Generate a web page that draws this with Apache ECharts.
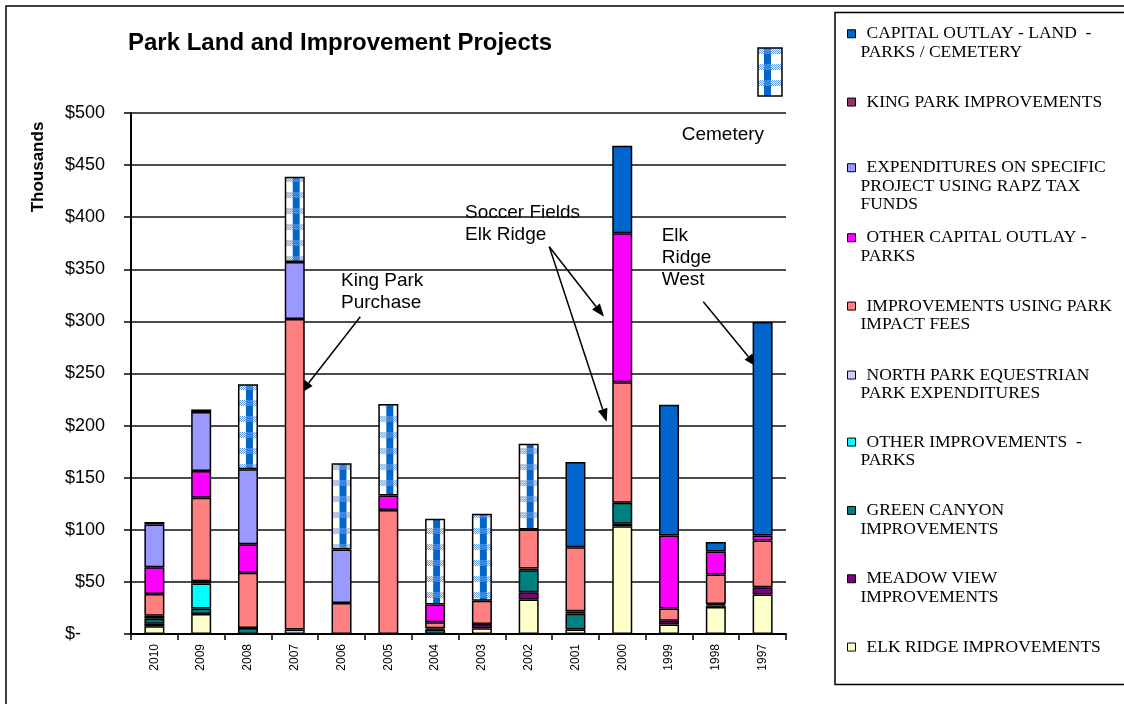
<!DOCTYPE html>
<html>
<head>
<meta charset="utf-8">
<script src="https://cdn.jsdelivr.net/npm/echarts@6/dist/echarts.min.js"></script>
<style>
  html, body { margin: 0; padding: 0; background: #fff; }
  #chart { width: 1124px; height: 704px; }
</style>
</head>
<body>
<div id="chart"></div>
<script>
// Fiscal years, newest first
const years = ['2010','2009','2008','2007','2006','2005','2004','2003','2002','2001','2000','1999','1998','1997'];

// Spending per project, in thousands of dollars (stacked bottom to top)
const elkRidge        = [7.4, 19.2, 0, 0, 0, 0, 0, 5.4, 33, 4.2, 103.5, 9, 26, 37.8];
const meadowView      = [2.5, 0, 0, 0, 0, 0, 0, 4.2, 7, 0, 2.3, 3.8, 1.5, 7];
const greenCanyon     = [4.8, 5.2, 5.8, 0, 0, 0, 4.2, 0, 21.2, 15.3, 20.2, 0, 1.4, 0];
const otherImprove    = [2.9, 24, 0, 0, 0, 0, 1.3, 0, 1.6, 2.3, 0, 0, 0, 0];
const northPark       = [0, 2.2, 0, 4.2, 0, 0, 0, 0, 0, 0, 0, 0, 0, 0];
const impactFees      = [20.9, 80.2, 52.9, 298, 29.8, 118.9, 5.7, 22.4, 37.5, 61.5, 115.6, 11.6, 28.2, 44.9];
const otherCapital    = [25.6, 25.6, 27.5, 0, 0, 14.1, 17, 0, 0, 0, 143, 70.2, 22.1, 4.8];
const rapzFunds       = [41, 56.6, 71.8, 54.7, 51.3, 0, 0, 0, 0, 0, 0, 0, 0, 0];
const kingPark        = [2.4, 2.5, 0, 0, 0, 0, 0, 0, 0, 0, 0, 0, 0, 0];
const landCapital     = [0, 0, 0, 0, 0, 0, 0, 0, 0, 81.7, 83.9, 125.3, 9, 205];
const cemetery        = [0, 0, 81.7, 82, 82.7, 87.8, 82.3, 83.4, 82.4, 0, 0, 0, 0, 0];

// Y axis ticks
const yMin = 0, yMax = 500, yStep = 50;

// Legend wording, one array entry per printed line (top of legend first)
const legendLines = [
  ['CAPITAL OUTLAY - LAND  -', 'PARKS / CEMETERY'],
  ['KING PARK IMPROVEMENTS'],
  ['EXPENDITURES ON SPECIFIC', 'PROJECT USING RAPZ TAX', 'FUNDS'],
  ['OTHER CAPITAL OUTLAY -', 'PARKS'],
  ['IMPROVEMENTS USING PARK', 'IMPACT FEES'],
  ['NORTH PARK EQUESTRIAN', 'PARK EXPENDITURES'],
  ['OTHER IMPROVEMENTS  -', 'PARKS'],
  ['GREEN CANYON', 'IMPROVEMENTS'],
  ['MEADOW VIEW', 'IMPROVEMENTS'],
  ['ELK RIDGE IMPROVEMENTS']
];
const legendColors = ['#0066CC', '#993366', '#9999FF', '#FF00FF', '#FF8080',
                      '#CCCCFF', '#00FFFF', '#008080', '#800080', '#FFFFCC'];
const legendValues = [landCapital, kingPark, rapzFunds, otherCapital, impactFees,
                      northPark, otherImprove, greenCanyon, meadowView, elkRidge];

const SANS = '"Liberation Sans", Arial, sans-serif';
const SERIF = '"Liberation Serif", "Times New Roman", serif';

const GRID = { left: 131, right: 338, top: 113, bottom: 70 };
const plotW = 1124 - GRID.left - GRID.right;
const band = plotW / years.length;
const BAR_W = 20;

// Blue-and-white woven fill used for the cemetery payments
function wovenTile() {
  const c = document.createElement('canvas');
  c.width = 47; c.height = 16;
  const g = c.getContext('2d');
  g.fillStyle = '#fff';
  g.fillRect(0, 0, 47, 16);
  for (let y = 0; y < 6; y++) {
    for (let x = 0; x < 47; x++) {
      if ((x + y) % 2 === 0) { g.fillStyle = '#5a97e0'; g.fillRect(x, y, 1, 1); }
    }
  }
  g.fillStyle = '#0066CC';
  g.fillRect(8, 0, 7, 16);
  g.fillStyle = '#3d85d8';
  g.fillRect(8, 0, 7, 6);
  return c;
}
const tile = wovenTile();
const woven = {
  image: tile, repeat: 'repeat',
  x: GRID.left + band / 2 - BAR_W / 2, y: 0,
  scaleX: band / 47, scaleY: 1
};

const toBar = arr => arr.map(v => (v ? v : '-'));

const series = [];
for (let i = legendLines.length - 1; i >= 0; i--) {
  series.push({
    name: legendLines[i].join(' '),
    type: 'bar',
    stack: 'total',
    barWidth: BAR_W,
    data: toBar(legendValues[i]),
    itemStyle: { color: legendColors[i], borderColor: '#000', borderWidth: 1.5 },
    emphasis: { disabled: true }
  });
}
series.push({
  name: 'CEMETERY',
  type: 'bar',
  stack: 'total',
  barWidth: BAR_W,
  data: toBar(cemetery),
  itemStyle: { color: woven, borderColor: '#000', borderWidth: 1.5 },
  emphasis: { disabled: true }
});

// One legend block per entry; blank lines ahead of the wording keep the
// swatch level with the first printed line, and the first line sits a
// little to the right of the wrapped ones
const legendCapTops = [26, 94.3, 160, 230, 298.3, 367.3, 434.3, 502.7, 571, 639.3];
const LEG_LH = 18.5, LEG_FS = 17.5;
const legText = { fontFamily: SERIF, fontSize: LEG_FS, lineHeight: LEG_LH, color: '#000' };
const legends = legendLines.map((lines, i) => ({
  data: [lines.join(' ')],
  orient: 'vertical',
  left: 847,
  top: legendCapTops[i] - 1.5 - (lines.length - 1) * LEG_LH,
  padding: 0,
  itemWidth: 8,
  itemHeight: 8,
  icon: 'rect',
  selectedMode: false,
  itemStyle: { borderColor: '#000', borderWidth: 1 },
  formatter: () => '\n'.repeat(lines.length - 1) +
    lines.map((s, k) => (k === 0 ? '{f|' : '{r|') + s + '}').join('\n'),
  textStyle: Object.assign({}, legText, {
    rich: {
      f: Object.assign({}, legText, { padding: [0, 0, 0, 6] }),
      r: Object.assign({}, legText)
    }
  })
}));

function arrow(x1, y1, x2, y2) {
  const a = Math.atan2(y2 - y1, x2 - x1), L = 13, W = 5;
  const bx = x2 - L * Math.cos(a), by = y2 - L * Math.sin(a);
  const px = -Math.sin(a) * W, py = Math.cos(a) * W;
  return [
    { type: 'line', silent: true, shape: { x1, y1, x2: bx, y2: by }, style: { stroke: '#000', lineWidth: 1.5 } },
    { type: 'polygon', silent: true, shape: { points: [[x2, y2], [bx + px, by + py], [bx - px, by - py]] }, style: { fill: '#000' } }
  ];
}
function note(x, y, text) {
  return { type: 'text', silent: true, x, y,
    style: { text, font: '19px ' + SANS, fill: '#000', lineHeight: 22, verticalAlign: 'top' } };
}

const graphics = [
  { type: 'rect', silent: true, z: -10, shape: { x: 6, y: 6, width: 1140, height: 720 },
    style: { fill: 'none', stroke: '#000', lineWidth: 1.5 } },
  { type: 'rect', silent: true, z: -10, shape: { x: 835, y: 12.5, width: 300, height: 672 },
    style: { fill: '#fff', stroke: '#000', lineWidth: 1.5 } },
  { type: 'text', silent: true, x: 38, y: 167, rotation: Math.PI / 2,
    style: { text: 'Thousands', font: 'bold 17px ' + SANS, fill: '#000', align: 'center', verticalAlign: 'middle' } },
  { type: 'rect', silent: true, shape: { x: 758, y: 48, width: 24, height: 48 },
    style: { fill: { image: tile, repeat: 'repeat', x: 756 }, stroke: '#000', lineWidth: 1.5 } },
  note(681.7, 123.4, 'Cemetery'),
  note(341, 270, 'King Park\nPurchase'),
  note(465, 201.7, 'Soccer Fields\nElk Ridge'),
  note(661.7, 225, 'Elk\nRidge\nWest'),
  ...arrow(360.3, 316.7, 300.7, 393.3),
  ...arrow(549.3, 246.7, 604, 316.7),
  ...arrow(549.3, 246.7, 606.7, 421.7),
  ...arrow(703.3, 301.7, 756.7, 366.7)
];

const chart = echarts.init(document.getElementById('chart'), null, { renderer: 'canvas' });
chart.setOption({
  animation: false,
  backgroundColor: '#fff',
  title: {
    text: 'Park Land and Improvement Projects',
    left: 123, top: 26,
    textStyle: { fontFamily: SANS, fontSize: 24, fontWeight: 'bold', color: '#000' }
  },
  grid: GRID,
  legend: legends,
  xAxis: {
    type: 'category',
    data: years,
    axisLine: { lineStyle: { color: '#000', width: 2 } },
    axisTick: { show: true, length: 6, lineStyle: { color: '#000', width: 1.5 } },
    axisLabel: { rotate: 90, interval: 0, margin: 10, fontFamily: SANS, fontSize: 12, color: '#000' },
    splitLine: { show: false }
  },
  yAxis: {
    type: 'value',
    min: yMin, max: yMax, interval: yStep,
    axisLine: { show: true, lineStyle: { color: '#000', width: 2 } },
    axisTick: { show: true, length: 7, lineStyle: { color: '#000', width: 1.5 } },
    axisLabel: {
      margin: 26, fontFamily: SANS, fontSize: 18, color: '#000',
      formatter: v => (v === 0 ? '{z|$-}' : '$' + v),
      rich: { z: { fontFamily: SANS, fontSize: 18, color: '#000', padding: [0, 24, 0, 0] } }
    },
    splitLine: { show: true, lineStyle: { color: '#111', width: 1.5 } }
  },
  series,
  graphic: graphics
});
</script>
</body>
</html>
